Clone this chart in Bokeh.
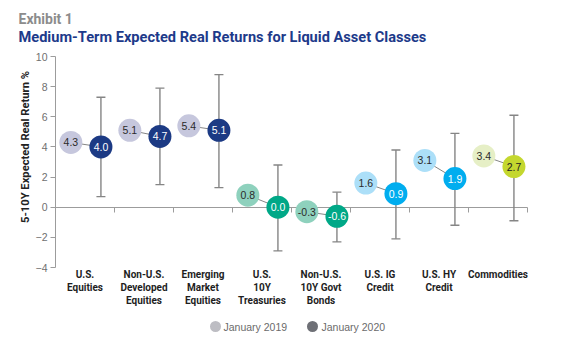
import math
from bokeh.plotting import figure
from bokeh.models import (Range1d, LinearAxis, FixedTicker, ColumnDataSource,
                          Label, Whisker, TeeHead)
from bokeh.core.properties import value
from bokeh.embed import file_html
from bokeh.resources import INLINE

# ---------------- data ----------------
categories = ["U.S.\nEquities", "Non-U.S.\nDeveloped\nEquities", "Emerging\nMarket\nEquities",
              "U.S.\n10Y\nTreasuries", "Non-U.S.\n10Y Govt\nBonds", "U.S. IG\nCredit",
              "U.S. HY\nCredit", "Commodities"]
jan2019 = [4.3, 5.1, 5.4, 0.8, -0.3, 1.6, 3.1, 3.4]
jan2020 = [4.0, 4.7, 5.1, 0.0, -0.6, 0.9, 1.9, 2.7]
range_low = [0.7, 1.5, 1.3, -2.9, -2.3, -2.1, -1.2, -0.9]
range_high = [7.3, 7.9, 8.8, 2.8, 1.0, 3.8, 4.9, 6.1]
y_ticks = [-4, -2, 0, 2, 4, 6, 8, 10]
series_names = ["January 2019", "January 2020"]

fill_2019 = ["#c6c7dd", "#c6c7dd", "#c6c7dd", "#8ed1bd", "#8ed1bd", "#acdff8", "#acdff8", "#e6efc6"]
fill_2020 = ["#1c3a84", "#1c3a84", "#1c3a84", "#00a887", "#00a887", "#00adef", "#00adef", "#c4d72f"]
text_2020 = ["#ffffff"] * 7 + ["#222222"]

# ---------------- layout helpers ----------------
W, H = 584, 342
X0_PX = 55.0
CAT_PX = 59.0
Y10_PX = 56.0
PX_PER_UNIT = (267.0 - 56.0) / 14.0

x_start = -X0_PX / CAT_PX
x_end = x_start + W / CAT_PX
y_end = 10 + Y10_PX / PX_PER_UNIT
y_start = y_end - H / PX_PER_UNIT


def y_from_px(py):
    return y_end - py / PX_PER_UNIT


def x_from_px(px):
    return x_start + px / CAT_PX


OFF19, OFF20 = 0.26, 0.77
n = len(categories)
x19 = [i + OFF19 for i in range(n)]
x20 = [i + OFF20 for i in range(n)]

src = ColumnDataSource(dict(
    x19=x19, x20=x20, y19=jan2019, y20=jan2020, lo=range_low, hi=range_high,
    f19=fill_2019, f20=fill_2020, t20=text_2020,
    l19=[f"{v:.1f}" for v in jan2019], l20=[f"{v:.1f}" for v in jan2020],
))

p = figure(width=W, height=H, x_range=Range1d(x_start, x_end), y_range=Range1d(y_start, y_end),
           min_border=0, x_axis_location=None, y_axis_location=None, toolbar_location=None,
           output_backend="svg", outline_line_color=None, background_fill_color="white",
           border_fill_color="white")
p.xgrid.grid_line_color = None
p.ygrid.grid_line_color = None

AX = "#9c9c9c"
yax = LinearAxis(fixed_location=0, bounds=(-4, 10), ticker=FixedTicker(ticks=y_ticks),
                 level="underlay")
yax.axis_line_color = AX
yax.major_tick_line_color = AX
yax.major_tick_out = 5
yax.major_tick_in = 0
yax.minor_tick_line_color = None
yax.major_label_text_font = "Liberation Sans"
yax.major_label_text_font_size = "10.5px"
yax.major_label_text_color = "#6f6f6f"
yax.major_label_standoff = 3
p.add_layout(yax, "left")

xax = LinearAxis(fixed_location=0, bounds=(0, n), ticker=FixedTicker(ticks=list(range(n + 1))),
                 level="underlay")
xax.axis_line_color = AX
xax.major_tick_line_color = AX
xax.major_tick_out = 5
xax.major_tick_in = 0
xax.minor_tick_line_color = None
xax.major_label_text_alpha = 0
xax.major_label_text_font_size = "1px"
p.add_layout(xax, "below")

# error bars
WH = "#858585"
p.add_layout(Whisker(source=src, base="x20", lower="lo", upper="hi", dimension="height",
                     line_color=WH, line_width=1.4,
                     lower_head=TeeHead(size=9, line_color=WH, line_width=1.4),
                     upper_head=TeeHead(size=9, line_color=WH, line_width=1.4),
                     level="underlay"))

# connectors
p.segment(x0="x19", y0="y19", x1="x20", y1="y20", source=src, line_color=WH, line_width=1)

# circles
p.scatter(x="x19", y="y19", size=23, fill_color="f19", line_color=None, source=src)
p.scatter(x="x20", y="y20", size=23, fill_color="f20", line_color=None, source=src)

p.text(x="x19", y="y19", text="l19", source=src, text_align="center", text_baseline="middle",
       text_font=value("Liberation Sans"), text_font_size="10.5px", text_color="#2a2a2a")
p.text(x="x20", y="y20", text="l20", source=src, text_align="center", text_baseline="middle",
       text_font=value("Liberation Sans"), text_font_size="10.5px", text_color="t20")

# category labels
cat_src = ColumnDataSource(dict(x=[i + 0.5 for i in range(n)], y=[y_from_px(268)] * n, t=categories))
p.text(x="x", y="y", text="t", source=cat_src, text_align="center", text_baseline="top",
       text_font=value("Roboto"), text_font_style="bold", text_font_size="10px",
       text_color="#1e1e1e", text_line_height=1.2)

# titles
p.add_layout(Label(x=18, y=H - 18, x_units="screen", y_units="screen", text="Exhibit 1",
                   text_font="Roboto", text_font_style="bold", text_font_size="14px",
                   text_color="#8c8c8c", text_baseline="alphabetic"))
p.add_layout(Label(x=18, y=H - 36.5, x_units="screen", y_units="screen",
                   text="Medium-Term Expected Real Returns for Liquid Asset Classes",
                   text_font="Roboto", text_font_style="bold", text_font_size="14.6px",
                   text_color="#1d3a8a", text_baseline="alphabetic"))
p.add_layout(Label(x=25, y=H - 146.5, x_units="screen", y_units="screen", angle=math.pi / 2,
                   text="5-10Y Expected Real Return %", text_align="center", text_baseline="middle",
                   text_font="Roboto", text_font_style="bold", text_font_size="11.2px",
                   text_color="#222222"))

# legend
leg_src = ColumnDataSource(dict(
    x=[x_from_px(215), x_from_px(312)], y=[y_from_px(326)] * 2,
    tx=[x_from_px(223), x_from_px(321)], c=["#bdbdc3", "#6e7076"], t=series_names))
p.scatter(x="x", y="y", size=11, fill_color="c", line_color=None, source=leg_src)
p.text(x="tx", y="y", text="t", source=leg_src, text_align="left", text_baseline="middle",
       text_font=value("Liberation Sans"), text_font_size="10.5px", text_color="#6b6b6b")

open("out.html", "w").write(file_html(p, INLINE))
